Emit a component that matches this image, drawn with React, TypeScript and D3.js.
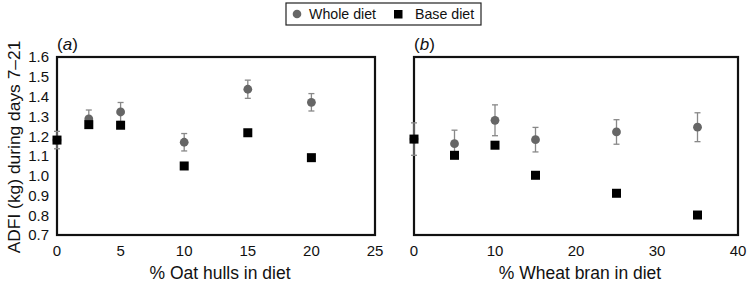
import React from "react";
import * as d3 from "d3";

const oatX = [0, 2.5, 5, 10, 15, 20];
const oatWhole = [1.18, 1.287, 1.322, 1.169, 1.437, 1.371];
const oatWholeErr = [0.044, 0.045, 0.048, 0.044, 0.046, 0.044];
const oatBase = [1.18, 1.258, 1.255, 1.049, 1.217, 1.091];

const branX = [0, 5, 10, 15, 25, 35];
const branWhole = [1.185, 1.162, 1.28, 1.182, 1.221, 1.245];
const branWholeErr = [0.082, 0.068, 0.078, 0.062, 0.062, 0.073];
const branBase = [1.185, 1.103, 1.154, 1.002, 0.911, 0.801];

const yTicks = [0.7, 0.8, 0.9, 1.0, 1.1, 1.2, 1.3, 1.4, 1.5, 1.6];
const oatTicks = [0, 5, 10, 15, 20, 25];
const branTicks = [0, 10, 20, 30, 40];

const FONT = "'Liberation Sans', Arial, Helvetica, sans-serif";
const TOP = 57;
const BOTTOM = 235;

const yScale = d3.scaleLinear().domain([0.7, 1.6]).range([BOTTOM, TOP]);

type PanelProps = {
  x0: number;
  x1: number;
  domainMax: number;
  ticks: number[];
  xs: number[];
  whole: number[];
  err: number[];
  base: number[];
  label: string;
  title: string;
  showY: boolean;
};

function Panel(p: PanelProps) {
  const x = d3.scaleLinear().domain([0, p.domainMax]).range([p.x0, p.x1]);
  return (
    <g>
      {p.showY &&
        yTicks.map((t) => (
          <text
            key={t}
            x={p.x0 - 8}
            y={yScale(t)}
            dy="0.36em"
            textAnchor="end"
            fontSize={15}
            fontFamily={FONT}
            fill="#111"
          >
            {t.toFixed(1)}
          </text>
        ))}
      {p.ticks.map((t) => (
        <text
          key={t}
          x={x(t)}
          y={BOTTOM + 21}
          textAnchor="middle"
          fontSize={15}
          fontFamily={FONT}
          fill="#111"
        >
          {t}
        </text>
      ))}
      <text
        x={(p.x0 + p.x1) / 2 + 4}
        y={BOTTOM + 44}
        textAnchor="middle"
        fontSize={17.5}
        fontFamily={FONT}
        fill="#111"
      >
        {p.title}
      </text>
      <text x={p.x0} y={TOP - 7} fontSize={17} fontFamily={FONT} fill="#111">
        (<tspan fontStyle="italic">{p.label}</tspan>)
      </text>
      <rect
        x={p.x0}
        y={TOP}
        width={p.x1 - p.x0}
        height={BOTTOM - TOP}
        fill="none"
        stroke="#111"
        strokeWidth={2.2}
      />
      {p.xs.map((xv, i) => {
        const cx = x(xv);
        const yt = yScale(p.whole[i] + p.err[i]);
        const yb = yScale(p.whole[i] - p.err[i]);
        return (
          <g key={"e" + i} stroke="#888" strokeWidth={1.3}>
            <line x1={cx} x2={cx} y1={yt} y2={yb} />
            <line x1={cx - 3} x2={cx + 3} y1={yt} y2={yt} />
            <line x1={cx - 3} x2={cx + 3} y1={yb} y2={yb} />
          </g>
        );
      })}
      {p.xs.map((xv, i) => (
        <circle key={"c" + i} cx={x(xv)} cy={yScale(p.whole[i])} r={4.4} fill="#666" />
      ))}
      {p.xs.map((xv, i) => (
        <rect
          key={"s" + i}
          x={x(xv) - 4.5}
          y={yScale(p.base[i]) - 4.5}
          width={9}
          height={9}
          fill="#000"
        />
      ))}
    </g>
  );
}

export default function App() {
  return (
    <svg width={750} height={282} style={{ position: "absolute", left: 0, top: 0, background: "#fff" }}>
      <rect x={0} y={0} width={750} height={282} fill="#fff" />
      <text
        transform={`translate(20, 147) rotate(-90)`}
        textAnchor="middle"
        fontSize={17.4}
        fontFamily={FONT}
        fill="#111"
      >
        ADFI (kg) during days 7–21
      </text>
      <Panel
        x0={57}
        x1={375}
        domainMax={25}
        ticks={oatTicks}
        xs={oatX}
        whole={oatWhole}
        err={oatWholeErr}
        base={oatBase}
        label="a"
        title="% Oat hulls in diet"
        showY={true}
      />
      <Panel
        x0={414}
        x1={738}
        domainMax={40}
        ticks={branTicks}
        xs={branX}
        whole={branWhole}
        err={branWholeErr}
        base={branBase}
        label="b"
        title="% Wheat bran in diet"
        showY={false}
      />
      <g>
        <rect x={286} y={3} width={195} height={22} fill="#fff" stroke="#222" strokeWidth={1.2} />
        <circle cx={297} cy={14} r={4.3} fill="#666" />
        <text x={309} y={19} fontSize={14.2} fontFamily={FONT} fill="#111">
          Whole diet
        </text>
        <rect x={394} y={10} width={8.5} height={8.5} fill="#000" />
        <text x={415} y={19} fontSize={14.2} fontFamily={FONT} fill="#111">
          Base diet
        </text>
      </g>
    </svg>
  );
}
